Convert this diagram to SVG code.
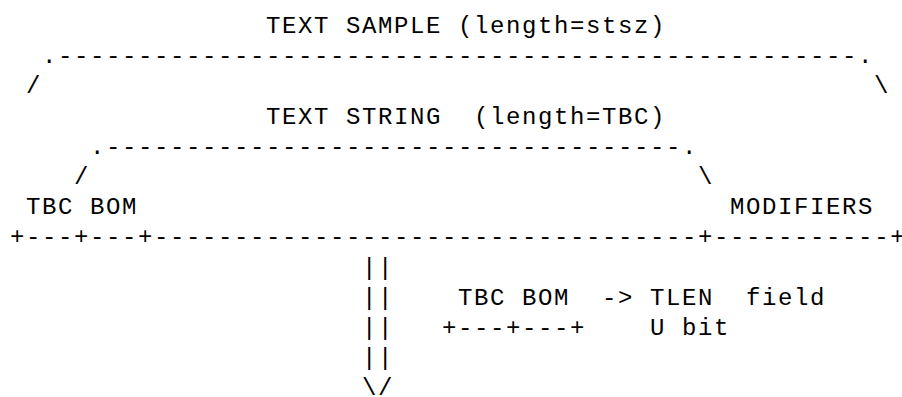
<svg xmlns="http://www.w3.org/2000/svg" width="902" height="397" viewBox="0 0 902 397">
<style>
text { font-family: "Liberation Mono", "DejaVu Sans Mono", monospace; font-size: 24px; letter-spacing: 1.6px; fill: #000; white-space: pre; }
</style>
<rect width="902" height="397" fill="#fff"/>
<g id="text-sample" xml:space="preserve">
<text x="266" y="33">TEXT SAMPLE (length=stsz)</text>
<text x="42" y="63.2">.--------------------------------------------------.</text>
<text x="26" y="93.4">/</text>
<text x="874" y="93.4">\</text>
</g>
<g id="text-string" xml:space="preserve">
<text x="266" y="123.6">TEXT STRING  (length=TBC)</text>
<text x="90" y="153.8">.------------------------------------.</text>
<text x="74" y="184">/</text>
<text x="698" y="184">\</text>
</g>
<g id="fields" xml:space="preserve">
<text x="26" y="214.2">TBC BOM</text>
<text x="730" y="214.2">MODIFIERS</text>
<text x="10" y="244.4">+---+---+----------------------------------+-----------+</text>
</g>
<g id="connectors" xml:space="preserve">
<text x="362" y="274.6">||</text>
<text x="362" y="304.8">||</text>
<text x="362" y="335">||</text>
<text x="362" y="365.2">||</text>
<text x="362" y="395.4">\/</text>
</g>
<g id="legend" xml:space="preserve">
<text x="458" y="304.8">TBC BOM  -&gt; TLEN  field</text>
<text x="442" y="335">+---+---+</text>
<text x="650" y="335">U bit</text>
</g>
</svg>
